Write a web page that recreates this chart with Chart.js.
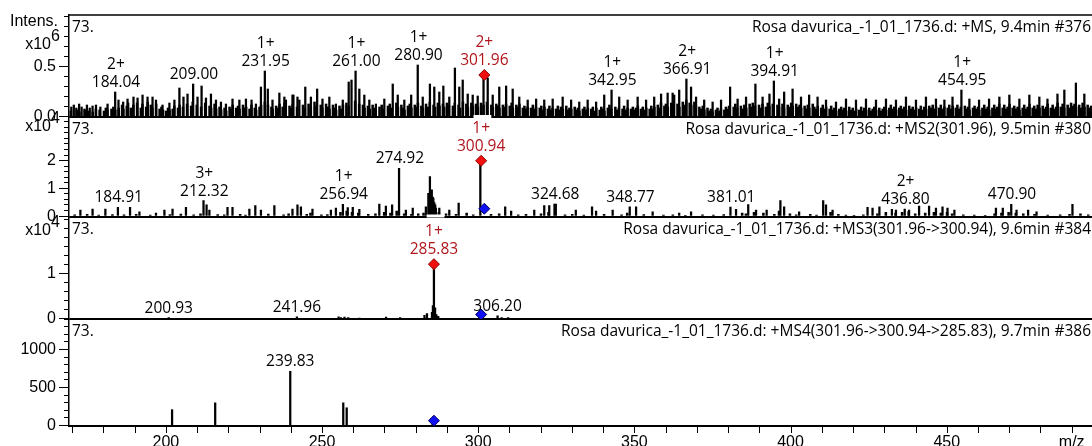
<!DOCTYPE html>
<html>
<head>
<meta charset="utf-8">
<script src="https://cdn.jsdelivr.net/npm/chart.js@4.4.0/dist/chart.umd.min.js"></script>
<style>
  html, body { margin:0; padding:0; background:#fff; overflow:hidden; }
  #wrap { position:relative; width:1092px; height:446px; }
  #wrap canvas { position:absolute; left:0; top:0; }
</style>
</head>
<body>
<div id="wrap">
  <canvas id="ms1" width="1092" height="446"></canvas>
  <canvas id="ms2" width="1092" height="446"></canvas>
  <canvas id="ms3" width="1092" height="446"></canvas>
  <canvas id="ms4" width="1092" height="446"></canvas>
</div>
<script>
// --- axe m/z commun aux 4 spectres
const X_MIN = 169, X_MAX = 496.5;
const xTicks = [170,180,190,200,210,220,230,240,250,260,270,280,290,300,310,320,330,340,350,360,370,380,390,400,410,420,430,440,450,460,470,480,490];
const xTickLabels = [200, 250, 300, 350, 400, 450];

// --- graduations des axes d'intensité
const ms1YTicks = [0,.1,.2,.3,.4,.5,.6,.7,.8,.9,1.0];
const ms2YTicks = [0,.2,.4,.6,.8,1,1.2,1.4,1.6,1.8,2,2.2,2.4,2.6,2.8,3,3.2,3.4];
const ms3YTicks = [0,.2,.4,.6,.8,1,1.2,1.4,1.6,1.8,2,2.2];
const ms4YTicks = [0,100,200,300,400,500,600,700,800,900,1000,1100,1200,1300,1400];

const ms1Peaks = [
  [170.0,.10],[170.8,.12],[171.6,.09],[172.5,.13],[173.3,.10],[174.2,.08],[175.0,.12],[175.9,.09],[176.8,.11],
  [177.9,.12],[179.3,.10],[181.6,.13],[184.04,.25],[185.1,.17],[186.6,.15],[188.0,.18],[189.9,.20],[191.2,.19],
  [192.8,.22],[194.4,.20],[196.0,.20],[197.1,.17],[199.2,.12],[201.4,.14],[203.0,.17],[204.6,.29],[205.9,.20],
  [207.2,.23],[209.00,.33],[210.4,.20],[211.7,.31],[213.1,.19],[214.7,.23],[216.3,.17],[217.9,.15],[219.5,.13],
  [221.6,.18],[223.8,.17],[225.9,.18],[227.7,.17],[229.1,.13],[230.7,.30],[231.95,.46],[232.9,.28],[234.4,.17],
  [236.6,.24],[238.2,.20],[238.7,.17],[240.8,.22],[241.1,.22],[242.4,.20],[243.0,.17],[244.9,.30],[246.7,.20],
  [248.7,.28],[250.4,.18],[252.6,.20],[254.7,.13],[256.9,.17],[258.8,.35],[259.7,.37],[261.00,.46],[262.2,.28],
  [263.8,.22],[265.4,.17],[267.5,.13],[270.2,.18],[272.9,.33],[274.5,.22],[276.6,.17],[278.8,.22],[280.90,.52],
  [282.5,.20],[284.8,.33],[286.2,.30],[287.8,.25],[289.1,.31],[291.0,.20],[292.8,.49],[294.2,.30],[295.3,.37],
  [296.9,.23],[298.5,.22],[300.1,.21],[301.96,.42],[303.3,.39],[304.9,.22],[307.0,.30],[309.2,.31],[311.3,.28],
  [313.4,.20],[316.1,.17],[318.8,.18],[321.4,.17],[324.1,.18],[327.3,.20],[330.0,.17],[332.6,.15],[335.3,.17],
  [338.0,.15],[340.6,.22],[342.95,.27],[345.4,.20],[348.1,.17],[351.3,.20],[354.0,.17],[356.6,.20],[358.8,.23],
  [360.9,.24],[362.5,.24],[363.0,.22],[364.6,.27],[366.91,.38],[368.4,.30],[370.0,.20],[372.6,.17],[375.3,.15],
  [378.0,.17],[380.9,.30],[383.3,.18],[386.0,.20],[389.0,.33],[391.3,.20],[393.5,.23],[394.91,.36],[396.6,.18],
  [398.2,.25],[400.9,.28],[403.6,.20],[406.2,.22],[408.9,.20],[411.6,.17],[414.8,.15],[418.0,.18],[421.2,.17],
  [424.4,.18],[427.6,.17],[430.8,.18],[434.0,.17],[437.2,.20],[440.4,.17],[443.6,.20],[446.8,.18],[449.5,.17],
  [452.1,.20],[454.95,.27],[457.5,.18],[460.6,.17],[463.8,.18],[467.1,.20],[470.3,.22],[473.5,.18],[476.7,.22],
  [479.9,.20],[482.5,.18],[485.7,.23],[487.9,.27],[491.6,.34],[494.3,.23]
];
// bruit de fond (petits pics entre les pics principaux)
const ms1Noise = [
  [169.3,.06],[171.2,.07],[172.0,.05],[173.8,.07],[174.7,.06],[176.3,.05],[177.3,.08],[178.5,.07],[179.9,.06],
  [180.5,.09],[181.0,.07],[182.3,.08],[182.9,.10],[183.5,.07],[184.6,.09],[185.7,.12],[186.1,.08],[187.2,.11],
  [187.6,.14],[188.5,.09],[189.3,.12],[190.5,.14],[191.7,.09],[192.2,.13],[193.4,.10],[193.9,.15],[194.9,.12],
  [195.4,.09],[196.6,.13],[197.7,.08],[198.3,.10],[198.8,.07],[199.8,.06],[200.4,.09],[200.9,.07],[201.9,.08],
  [202.4,.11],[203.6,.09],[204.1,.12],[205.2,.10],[206.5,.13],[207.8,.11],[208.3,.15],[209.6,.12],[211.0,.10],
  [212.3,.14],[213.7,.11],[214.2,.09],[215.3,.13],[215.8,.08],[216.9,.10],[217.4,.07],[218.5,.09],[219.0,.06],
  [220.1,.10],[220.7,.08],[221.1,.12],[222.2,.09],[222.8,.11],[223.3,.08],[224.4,.12],[224.9,.09],[225.4,.10],
  [226.5,.08],[227.1,.12],[228.2,.09],[228.6,.07],[229.7,.10],[230.2,.12],[231.4,.15],[232.4,.12],[233.5,.10],
  [233.9,.08],[235.0,.11],[235.6,.09],[236.1,.13],[237.1,.10],[237.7,.14],[239.3,.11],[239.8,.09],[240.3,.13],
  [241.7,.10],[243.6,.12],[244.2,.09],[245.4,.13],[246.1,.10],[247.3,.15],[247.9,.11],[249.3,.12],[249.8,.09],
  [251.0,.13],[251.6,.10],[252.1,.08],[253.2,.12],[253.8,.09],[254.2,.07],[255.3,.11],[255.9,.08],[256.4,.12],
  [257.5,.14],[258.2,.11],[260.3,.16],[261.6,.13],[262.8,.12],[263.3,.09],[264.4,.11],[265.0,.08],[265.9,.12],
  [266.5,.09],[266.9,.07],[268.1,.10],[268.8,.12],[269.4,.08],[270.8,.11],[271.4,.13],[271.9,.09],[273.5,.14],
  [274.0,.10],[275.1,.12],[275.7,.09],[276.1,.07],[277.2,.11],[277.8,.13],[278.3,.09],[279.4,.12],[280.0,.10],
  [280.4,.14],[281.5,.11],[282.0,.09],[283.0,.13],[283.6,.10],[284.2,.15],[285.4,.12],[285.9,.10],[286.8,.14],
  [287.3,.11],[288.4,.13],[288.8,.10],[289.7,.14],[290.3,.12],[291.6,.11],[292.2,.14],[293.4,.12],[293.9,.09],
  [294.8,.15],[295.9,.13],[296.4,.10],[297.5,.14],[298.0,.11],[299.0,.13],[299.6,.10],[300.6,.14],[301.4,.12],
  [302.5,.15],[303.9,.12],[304.4,.10],[305.5,.13],[306.0,.11],[306.5,.09],[307.6,.12],[308.1,.10],[308.6,.13],
  [309.8,.11],[310.4,.14],[310.8,.09],[311.9,.12],[312.4,.10],[312.9,.13],[314.0,.09],[314.5,.11],[315.0,.08],
  [315.5,.10],[316.6,.09],[317.2,.12],[317.7,.08],[318.2,.10],[319.4,.09],[319.9,.11],[320.4,.07],[320.9,.10],
  [322.0,.08],[322.5,.11],[323.0,.07],[323.5,.09],[324.6,.08],[325.2,.11],[325.7,.07],[326.2,.10],[326.8,.08],
  [327.9,.11],[328.4,.07],[328.9,.09],[329.5,.08],[330.6,.10],[331.1,.07],[331.6,.09],[332.1,.06],[333.2,.08],
  [333.7,.10],[334.2,.07],[334.8,.09],[335.9,.08],[336.4,.10],[336.9,.06],[337.5,.09],[338.6,.07],[339.1,.10],
  [339.6,.08],[340.1,.06],[341.2,.09],[341.7,.12],[342.3,.08],[343.6,.10],[344.1,.07],[344.7,.09],[345.9,.08],
  [346.4,.11],[346.9,.07],[347.5,.09],[348.6,.08],[349.2,.10],[349.7,.07],[350.2,.09],[350.8,.11],[351.8,.08],
  [352.4,.10],[352.9,.07],[353.5,.09],[354.6,.08],[355.1,.11],[355.6,.08],[356.1,.10],[357.2,.12],[357.7,.09],
  [358.2,.14],[359.3,.11],[359.8,.13],[360.4,.10],[361.5,.14],[362.0,.11],[363.5,.13],[364.1,.10],[365.2,.15],
  [365.7,.12],[366.3,.17],[367.4,.14],[367.9,.12],[368.9,.15],[369.4,.11],[370.5,.10],[371.0,.08],[371.6,.11],
  [372.1,.07],[373.1,.09],[373.7,.06],[374.2,.08],[374.7,.05],[375.8,.07],[376.3,.09],[376.9,.06],[377.4,.08],
  [378.5,.07],[379.0,.10],[379.5,.08],[380.0,.11],[381.5,.10],[382.0,.13],[382.6,.09],[383.8,.11],[384.4,.08],
  [384.9,.12],[385.5,.09],[386.6,.13],[387.1,.10],[387.6,.14],[388.3,.11],[389.6,.12],[390.1,.09],[390.7,.13],
  [391.8,.10],[392.4,.14],[392.9,.11],[394.0,.13],[395.5,.12],[396.0,.10],[397.1,.13],[397.6,.09],[398.8,.12],
  [399.3,.10],[399.9,.14],[400.4,.11],[401.5,.13],[402.0,.10],[402.6,.12],[403.1,.09],[404.2,.11],[404.7,.08],
  [405.2,.12],[405.7,.09],[406.8,.13],[407.3,.10],[407.9,.08],[408.4,.11],[409.5,.09],[410.0,.12],[410.5,.08],
  [411.1,.10],[412.2,.08],[412.7,.11],[413.2,.07],[413.7,.09],[414.3,.06],[415.3,.08],[415.9,.10],[416.4,.07],
  [416.9,.09],[417.5,.06],[418.5,.10],[419.1,.07],[419.6,.09],[420.1,.06],[420.7,.08],[421.7,.07],[422.3,.10],
  [422.8,.06],[423.3,.09],[423.9,.07],[424.9,.09],[425.4,.06],[426.0,.08],[426.5,.10],[427.1,.07],[428.1,.09],
  [428.6,.06],[429.2,.08],[429.7,.10],[430.3,.07],[431.3,.09],[431.8,.12],[432.4,.08],[432.9,.10],[433.5,.07],
  [434.5,.09],[435.0,.11],[435.6,.08],[436.1,.10],[436.7,.07],[437.7,.11],[438.2,.08],[438.8,.10],[439.3,.07],
  [439.9,.09],[440.9,.08],[441.4,.11],[442.0,.07],[442.5,.10],[443.1,.08],[444.1,.11],[444.6,.09],[445.2,.12],
  [445.7,.08],[446.3,.10],[447.3,.09],[447.8,.12],[448.4,.08],[448.9,.10],[450.0,.09],[450.5,.12],[451.0,.08],
  [451.6,.11],[452.6,.09],[453.1,.12],[453.7,.08],[454.2,.10],[455.5,.11],[456.0,.08],[456.5,.10],[457.0,.07],
  [458.1,.09],[458.6,.11],[459.1,.08],[459.7,.10],[460.1,.07],[461.1,.09],[461.7,.12],[462.2,.08],[462.8,.10],
  [463.3,.07],[464.3,.09],[464.9,.12],[465.4,.08],[465.9,.10],[466.5,.13],[467.6,.09],[468.1,.12],[468.7,.08],
  [469.2,.10],[469.8,.13],[470.8,.09],[471.3,.11],[471.9,.08],[472.4,.10],[473.0,.07],[474.0,.09],[474.5,.12],
  [475.1,.08],[475.6,.10],[476.2,.13],[477.2,.09],[477.7,.11],[478.3,.08],[478.8,.12],[479.4,.09],[480.4,.11],
  [480.9,.08],[481.5,.10],[482.0,.13],[483.0,.09],[483.6,.12],[484.1,.08],[484.7,.10],[485.2,.14],[486.2,.10],
  [486.8,.13],[487.3,.09],[488.4,.12],[488.9,.09],[489.5,.14],[490.0,.11],[490.6,.13],[491.1,.10],[492.1,.12],
  [492.7,.09],[493.2,.14],[493.8,.10],[494.8,.12],[495.3,.09],[495.9,.11]
];

// --- MS2(301.96)  [m/z, intensité x10^4]
const ms2Peaks = [
  [172.9,.23],[176.8,.27],[180.9,.27],[184.91,.33],[188.8,.33],[191.8,.17],[197.1,.12],[199.8,.23],[202.4,.27],
  [206.7,.33],[212.32,.57],[213.3,.42],[214.2,.23],[220.0,.33],[221.6,.33],[227.0,.27],[228.9,.39],[230.7,.23],
  [235.0,.39],[240.8,.27],[242.4,.42],[243.5,.35],[247.2,.27],[253.1,.23],[254.7,.30],[256.94,.44],[258.5,.32],
  [260.1,.33],[262.2,.26],[268.6,.45],[270.7,.38],[272.7,.42],[274.92,1.74],[277.1,.23],[279.3,.30],[283.5,.35],
  [284.3,.84],[284.8,1.44],[285.4,.96],[285.9,.66],[286.5,.42],[287.8,.30],[291.0,.23],[294.0,.48],[300.94,2.01],
  [308.9,.35],[310.8,.20],[318.2,.23],[321.4,.39],[323.0,.39],[324.68,.45],[325.1,.45],[331.5,.23],[336.7,.35],
  [338.0,.20],[343.3,.23],[348.77,.35],[350.8,.35],[356.1,.17],[364.6,.12],[368.4,.17],[381.01,.34],[382.8,.26],
  [386.7,.43],[389.2,.23],[392.6,.23],[397.0,.57],[398.2,.35],[403.0,.17],[410.7,.57],[411.6,.42],[413.7,.23],
  [424.9,.33],[426.5,.30],[428.7,.35],[432.7,.26],[434.0,.23],[436.80,.27],[438.2,.23],[441.4,.38],[444.6,.38],
  [446.8,.30],[448.9,.35],[450.5,.30],[452.7,.23],[466.0,.30],[468.2,.30],[470.90,.44],[472.6,.23],[476.3,.23],
  [479.0,.17],[490.5,.44]
];
const ms2Noise = [
  [170.5,.06],[174.5,.08],[178.2,.05],[182.6,.07],[186.3,.06],[190.2,.08],[194.7,.05],[201.0,.07],[204.5,.09],
  [208.6,.06],[210.8,.10],[216.3,.07],[218.4,.06],[223.5,.08],[225.2,.05],[232.5,.09],[237.4,.06],[239.0,.10],
  [244.8,.08],[246.0,.12],[249.5,.06],[251.4,.07],[255.6,.15],[257.6,.20],[259.3,.15],[261.3,.12],[264.5,.08],
  [266.8,.10],[269.6,.15],[271.6,.12],[273.6,.20],[276.0,.10],[278.3,.08],[280.5,.10],[282.2,.12],[284.0,.40],
  [285.1,.70],[285.6,.50],[286.1,.30],[287.1,.15],[289.4,.10],[292.6,.08],[296.0,.12],[298.1,.06],[303.8,.08],
  [306.4,.10],[312.5,.06],[315.0,.08],[319.8,.10],[322.2,.15],[327.5,.06],[329.8,.08],[333.5,.05],[340.0,.08],
  [345.6,.06],[347.4,.12],[352.7,.07],[359.0,.05],[362.0,.06],[366.0,.04],[371.5,.06],[375.0,.05],[378.3,.07],
  [384.2,.12],[385.4,.10],[388.0,.15],[391.0,.12],[394.5,.08],[396.0,.20],[399.5,.10],[401.5,.06],[406.0,.08],
  [408.0,.05],[412.5,.15],[415.0,.08],[417.4,.05],[420.0,.04],[423.0,.06],[427.5,.10],[430.2,.15],[433.3,.12],
  [435.4,.15],[437.5,.18],[439.6,.10],[442.8,.12],[445.6,.15],[447.8,.12],[449.8,.15],[451.4,.10],[455.0,.06],
  [458.5,.05],[462.0,.04],[465.0,.10],[467.2,.12],[469.5,.15],[471.8,.12],[474.2,.10],[477.8,.08],[482.0,.05],
  [486.0,.06],[489.0,.08],[492.5,.10],[495.0,.06]
];

// --- MS3(301.96->300.94)  [m/z, intensité x10^4]
const ms3Peaks = [
  [200.93,.03],[241.96,.05],[255.3,.05],[256.0,.03],[257.2,.04],[258.4,.03],[262.0,.02],[270.5,.04],[275.0,.03],
  [282.8,.08],[283.6,.12],[285.2,.15],[285.5,.30],[285.83,1.22],[286.2,.25],[286.6,.10],[287.2,.06],[306.20,.07],
  [307.5,.03],[309.6,.03]
];

// --- MS4(301.96->300.94->285.83)  [m/z, intensité]
const ms4Peaks = [[202.0,215],[215.8,305],[239.83,720],[256.8,305],[257.9,240],[285.4,60]];

// --- marqueurs : précurseur (rouge) et ion isolé (bleu)
const ms1Prec = [[301.96, .42]];
const ms2Prec = [[300.94, 2.01]], ms2Iso = [[301.96, .28]];
const ms3Prec = [[285.83, 1.22]], ms3Iso = [[300.94, .10]];
const ms4Iso  = [[285.83, 70]];

// --- fenêtres d'isolement (trait blanc sur la ligne de base)
const ms1Window = [298.5, 304.2];
const ms2Window = [283.5, 289.2];

// --- étiquettes de pics [m/z, charge]
const ms1Labels = [[184.04,'2+'],[209.00,''],[231.95,'1+'],[261.00,'1+'],[280.90,'1+'],[342.95,'1+'],[366.91,'2+'],[394.91,'1+'],[454.95,'1+']];
const ms2Labels = [[184.91,''],[212.32,'3+'],[256.94,'1+'],[274.92,''],[324.68,''],[348.77,''],[381.01,''],[436.80,'2+'],[470.90,'']];
const ms3Labels = [[200.93,''],[241.96,''],[306.20,'']];
const ms4Labels = [[239.83,'']];

const titles = [
  'Rosa davurica_-1_01_1736.d: +MS, 9.4min #376',
  'Rosa davurica_-1_01_1736.d: +MS2(301.96), 9.5min #380',
  'Rosa davurica_-1_01_1736.d: +MS3(301.96->300.94), 9.6min #384',
  'Rosa davurica_-1_01_1736.d: +MS4(301.96->300.94->285.83), 9.7min #386'
];

const TXT = '"Open Sans", "Noto Sans", sans-serif';
const AX  = '"Liberation Sans", Arial, sans-serif';
const RED_TXT = '#b0161c';

const toXY = list => list.map(p => ({ x: p[0], y: p[1] }));
const near = (a, b) => Math.abs(a - b) < 1e-6;

// graduations, titres, "73.", étiquettes des pics, unités
const annot = {
  id: 'annot',
  afterDatasetsDraw(chart, args, o) {
    const { ctx, chartArea: a, scales: { x, y } } = chart;
    ctx.save();
    ctx.strokeStyle = '#000'; ctx.lineWidth = 1;
    // graduations de l'axe y (longues si étiquetées)
    y.ticks.forEach(t => {
      const py = Math.round(y.getPixelForValue(t.value)) - 0.5;
      const len = o.yLabels.some(v => near(v, t.value)) ? 10 : 5;
      ctx.beginPath(); ctx.moveTo(y.right - len, py); ctx.lineTo(y.right, py); ctx.stroke();
    });
    // graduations de l'axe m/z (dernier panneau)
    if (o.showX) {
      x.ticks.forEach(t => {
        const px = Math.round(x.getPixelForValue(t.value)) + 0.5;
        ctx.beginPath(); ctx.moveTo(px, a.bottom); ctx.lineTo(px, a.bottom + 7); ctx.stroke();
      });
    }
    if (o.topLine) {
      ctx.lineWidth = 1.5;
      ctx.beginPath(); ctx.moveTo(a.left, a.top); ctx.lineTo(a.right, a.top); ctx.stroke();
    }
    if (o.window) {
      const x0 = x.getPixelForValue(o.window[0]), x1 = x.getPixelForValue(o.window[1]);
      ctx.fillStyle = '#fff'; ctx.fillRect(x0, a.bottom - 2, x1 - x0, 3);
    }
    ctx.font = '15.5px ' + TXT;
    ctx.fillStyle = '#000';
    ctx.textBaseline = 'middle';
    ctx.textAlign = 'left';  ctx.fillText('73.', 72, a.top + 13);
    ctx.textAlign = 'right'; ctx.fillText(o.title, 1091, a.top + 13);

    ctx.textAlign = 'center'; ctx.textBaseline = 'alphabetic';
    const drawLab = (mz, z, h, gap, color) => {
      const px = x.getPixelForValue(mz);
      const py = y.getPixelForValue(h) - gap;
      ctx.fillStyle = color;
      ctx.fillText(mz.toFixed(2), px, py);
      if (z) ctx.fillText(z, px, py - 18);
    };
    o.labels.forEach(([mz, z]) => {
      const pk = o.peaks.find(p => Math.abs(p[0] - mz) < 0.005);
      drawLab(mz, z, pk ? pk[1] : 0, 5, '#000');
    });
    if (o.prec) o.prec.forEach(([mz, h]) => drawLab(mz, o.precZ, h, 10, RED_TXT));

    // unités de l'axe
    ctx.fillStyle = '#000'; ctx.font = '16px ' + AX; ctx.textBaseline = 'middle';
    if (o.intens) { ctx.textAlign = 'right'; ctx.fillText('Intens.', 58, a.top + 7); }
    if (o.exp) {
      ctx.textAlign = 'right'; ctx.fillText('x10', 51, a.top + o.expDy);
      ctx.textAlign = 'left';  ctx.fillText(o.exp, 51, a.top + o.expDy - 8);
    }
    ctx.restore();
  }
};

function panel(id, c) {
  const datasets = [
    { type:'bar', data: toXY(c.peaks), backgroundColor:'#000', barThickness:1.6, order:2 }
  ];
  if (c.noise) datasets.push({ type:'bar', data: toXY(c.noise), backgroundColor:'#000', barThickness:1.9, order:3 });
  if (c.prec) datasets.push({ type:'line', data: toXY(c.prec), showLine:false, pointStyle:'rectRot',
    pointRadius:5.5, pointBackgroundColor:'#f01010', pointBorderColor:'#8a0000', pointBorderWidth:1, order:0 });
  if (c.iso) datasets.push({ type:'line', data: toXY(c.iso), showLine:false, pointStyle:'rectRot',
    pointRadius:5.5, pointBackgroundColor:'#1010f0', pointBorderColor:'#00006a', pointBorderWidth:1, order:1 });

  new Chart(document.getElementById(id), {
    type: 'bar',
    data: { datasets },
    options: {
      responsive:false, animation:false, events:[],
      layout: { autoPadding:false, padding:{ top:c.top, bottom:446 - c.bottom - (c.showX ? 20 : 0), left:0, right:0 } },
      plugins: { legend:{display:false}, tooltip:{enabled:false},
        annot: Object.assign({ yLabels:c.yLabels, showX:!!c.showX }, c.annot) },
      scales: {
        x: {
          type:'linear', min:X_MIN, max:X_MAX, offset:false, display: !!c.showX,
          afterBuildTicks(s) { s.ticks = xTicks.map(v => ({ value: v })); },
          afterFit(s) { if (c.showX) s.height = 20; s.paddingLeft = 0; s.paddingRight = 0; },
          border: { display:true, color:'#000', width:2 },
          grid: { drawOnChartArea:false, drawTicks:false },
          ticks: { autoSkip:false, maxRotation:0, padding:7, color:'#000', font:{ family:AX, size:16 },
            callback: v => xTickLabels.includes(v) ? String(v) : (v === 490 ? 'm/z' : '') }
        },
        y: {
          min:0, max:c.yMax,
          afterBuildTicks(s) { s.ticks = c.yTicks.map(v => ({ value: v })); },
          afterFit(s) { s.width = 69; s.paddingTop = 0; s.paddingBottom = 0; },
          border: { display:true, color:'#000', width:1.5 },
          grid: {
            drawOnChartArea:true, drawTicks:false,
            color: t => (t.tick && near(t.tick.value, 0)) ? '#000' : 'rgba(0,0,0,0)',
            lineWidth: t => (t.tick && near(t.tick.value, 0)) ? 2 : 1
          },
          ticks: { autoSkip:false, padding:13, color:'#000', font:{ family:AX, size:16 },
            callback: v => { const m = c.yLabels.find(l => near(l, v)); return m === undefined ? '' : c.fmt(m); } }
        }
      }
    },
    plugins: [annot]
  });
}

panel('ms1', { top:15, bottom:117, yMax:1.02, yTicks:ms1YTicks, yLabels:[0, 0.5], fmt: v => v.toFixed(1),
  peaks: ms1Peaks, noise: ms1Noise, prec: ms1Prec,
  annot: { title:titles[0], topLine:true, window:ms1Window, labels:ms1Labels, peaks:ms1Peaks, prec:ms1Prec, precZ:'2+', intens:true, exp:'6', expDy:30 } });

panel('ms2', { top:117, bottom:216.5, yMax:3.59, yTicks:ms2YTicks, yLabels:[0, 1, 2], fmt: v => String(v),
  peaks: ms2Peaks, noise: ms2Noise, prec: ms2Prec, iso: ms2Iso,
  annot: { title:titles[1], window:ms2Window, labels:ms2Labels, peaks:ms2Peaks, prec:ms2Prec, precZ:'1+', exp:'4', expDy:10 } });

panel('ms3', { top:216.5, bottom:319, yMax:2.28, yTicks:ms3YTicks, yLabels:[0, 1], fmt: v => String(v),
  peaks: ms3Peaks, prec: ms3Prec, iso: ms3Iso,
  annot: { title:titles[2], labels:ms3Labels, peaks:ms3Peaks, prec:ms3Prec, precZ:'1+', exp:'4', expDy:14 } });

panel('ms4', { top:319, bottom:426, yMax:1408, yTicks:ms4YTicks, yLabels:[0, 500, 1000], fmt: v => String(v), showX:true,
  peaks: ms4Peaks, iso: ms4Iso,
  annot: { title:titles[3], labels:ms4Labels, peaks:ms4Peaks } });
</script>
</body>
</html>
